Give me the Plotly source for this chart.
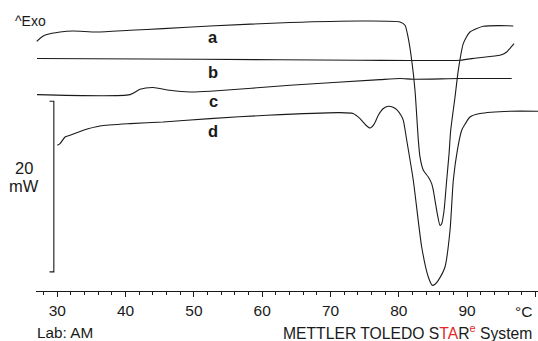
import plotly.graph_objects as go

# ---- data (temperature in °C, heat flow in mW, arbitrary offsets per curve) ----
a_T = [26.98, 27.72, 28.45, 30.40, 32.30, 35.77, 40.64, 45.48, 52.36, 64.07, 74.32, 80.18,
       80.91, 81.35, 81.89, 82.37, 82.86, 83.10, 83.59, 84.32, 84.81, 85.05, 85.30, 85.63,
       86.03, 86.28, 86.62, 87.01, 87.35, 87.60, 88.23, 88.71, 89.44, 90.42, 92.37, 94.81, 96.76]
a_mW = [29.27, 29.78, 30.06, 30.36, 30.48, 30.36, 30.56, 30.76, 31.07, 31.47, 31.65, 31.54,
        31.15, 29.78, 27.05, 23.53, 17.67, 15.71, 14.15, 13.36, 12.58, 11.80, 10.63, 9.08,
        7.70, 7.89, 9.41, 12.98, 16.02, 18.84, 22.74, 25.87, 29.00, 30.36, 31.03, 31.11, 31.07]

b_T = [27.03, 50.89, 74.32, 88.96, 91.41, 94.81, 95.80, 96.29, 96.87]
b_mW = [27.25, 27.16, 27.05, 27.05, 27.32, 27.63, 28.02, 28.45, 29.00]

c_T = [27.03, 40.64, 42.11, 44.01, 46.50, 49.43, 52.36, 64.07, 77.25, 80.18, 82.12, 88.96, 96.53]
c_mW = [23.02, 23.02, 23.65, 23.85, 23.53, 23.33, 23.41, 24.11, 24.78, 24.90, 24.82, 24.90, 24.90]

d_T = [30.00, 30.40, 31.13, 31.86, 33.81, 36.25, 40.64, 45.48, 52.36, 60.70, 71.39, 73.29,
       74.32, 75.20, 75.78, 76.37, 77.00, 77.69, 78.46, 79.15, 79.69, 80.32, 80.66, 81.16,
       82.12, 83.35, 84.32, 84.90, 85.30, 85.78, 86.76, 87.50, 87.98, 88.57, 89.21, 89.69,
       90.42, 91.89, 96.28, 100.38]
d_mW = [17.08, 17.28, 18.05, 18.25, 18.84, 19.34, 19.62, 19.81, 20.21, 20.60, 20.91, 20.80,
        20.21, 19.43, 19.11, 19.54, 20.60, 21.36, 21.65, 21.54, 21.27, 20.60, 20.01, 17.67,
        12.98, 5.16, 1.64, 0.67, 0.79, 1.25, 2.81, 7.12, 12.98, 16.49, 18.84, 19.54,
        20.40, 20.80, 21.07, 21.07]

curve_labels = ["a", "b", "c", "d"]
tick_values = [30, 40, 50, 60, 70, 80, 90, 100]
tick_labels = ["30", "40", "50", "60", "70", "80", "90", ""]

SCALE_MW = 20          # scale bar length, mW
SCALE_BOTTOM = 2.24    # mW level of the scale bar bottom
SCALE_T = 29.49        # °C position of the scale bar
SCALE_TICK_T = 28.86   # °C end of the small bracket ticks

X_RANGE = [26.88, 100.38]
Y_RANGE = [0, 34.11]

LINE = "#1a1a1a"
FONT = "Liberation Sans, Arial, Helvetica, sans-serif"

fig = go.Figure()
for T, y in [(a_T, a_mW), (b_T, b_mW), (c_T, c_mW), (d_T, d_mW)]:
    fig.add_trace(go.Scatter(x=T, y=y, mode="lines",
                             line=dict(color=LINE, width=1.1, shape="spline", smoothing=0.6),
                             hoverinfo="skip", showlegend=False))

# scale bar bracket
sb_top = SCALE_BOTTOM + SCALE_MW
fig.add_trace(go.Scatter(x=[SCALE_TICK_T, SCALE_T, SCALE_T, SCALE_TICK_T],
                         y=[sb_top, sb_top, SCALE_BOTTOM, SCALE_BOTTOM],
                         mode="lines", line=dict(color=LINE, width=1.1),
                         hoverinfo="skip", showlegend=False))

W, H = 538, 341
L, B = 36, 50
PW, PH = W - L, H - B

def px(x):
    return (x - L) / PW

def py(y):
    return (PH - y) / PH

ann = []
label_pos = [(213, 37.5), (213, 71.5), (213, 100.5), (213, 131)]
for lab, (xx, yy) in zip(curve_labels, label_pos):
    ann.append(dict(text="<b>%s</b>" % lab, x=px(xx), y=py(yy), xref="paper", yref="paper",
                    xanchor="center", yanchor="middle", showarrow=False,
                    font=dict(size=16.5, color=LINE, family=FONT)))
ann.append(dict(text="^Exo", x=px(12.5), y=py(21.5), xref="paper", yref="paper",
                xanchor="left", yanchor="middle", showarrow=False,
                font=dict(size=14, color=LINE, family=FONT)))
ann.append(dict(text="20", x=px(23.5), y=py(167.5), xref="paper", yref="paper",
                xanchor="center", yanchor="middle", showarrow=False,
                font=dict(size=16.5, color=LINE, family=FONT)))
ann.append(dict(text="mW", x=px(23.7), y=py(186.5), xref="paper", yref="paper",
                xanchor="center", yanchor="middle", showarrow=False,
                font=dict(size=16.5, color=LINE, family=FONT)))
ann.append(dict(text="°C", x=px(534), y=py(311), xref="paper", yref="paper",
                xanchor="right", yanchor="middle", showarrow=False,
                font=dict(size=15.5, color=LINE, family=FONT)))
ann.append(dict(text="Lab: AM", x=px(35), y=py(332.5), xref="paper", yref="paper",
                xanchor="left", yanchor="middle", showarrow=False,
                font=dict(size=15.3, color=LINE, family=FONT)))
ann.append(dict(text='METTLER TOLEDO S<span style="color:#e3262b">TA</span>R'
                     '<sup><span style="color:#e3262b">e</span></sup> System',
                x=px(534), y=py(332), xref="paper", yref="paper",
                xanchor="right", yanchor="middle", showarrow=False,
                font=dict(size=15.7, color=LINE, family=FONT)))

fig.update_layout(
    width=W, height=H,
    margin=dict(l=L, r=0, t=0, b=B, pad=0),
    paper_bgcolor="white", plot_bgcolor="white",
    font=dict(family=FONT, color=LINE),
    annotations=ann,
    xaxis=dict(range=X_RANGE, showgrid=False, zeroline=False,
               showline=True, linecolor=LINE, linewidth=1.2,
               tickmode="array", tickvals=tick_values, ticktext=tick_labels,
               ticks="outside", ticklen=5, tickwidth=1, tickcolor=LINE,
               tickfont=dict(size=15.5, color=LINE, family=FONT),
               minor=dict(dtick=2, tick0=0, ticks="outside", ticklen=3,
                          tickwidth=1, tickcolor=LINE, showgrid=False)),
    yaxis=dict(range=Y_RANGE, visible=False, showgrid=False, zeroline=False),
)

fig.write_html("out.html")
